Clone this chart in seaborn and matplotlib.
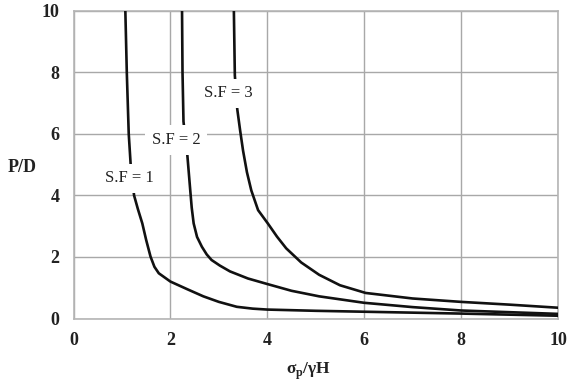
import matplotlib
matplotlib.use("Agg")
import matplotlib.pyplot as plt
import seaborn as sns
import pandas as pd

# curve values
sf1_x = [1.07, 1.10, 1.14, 1.18, 1.25, 1.33, 1.42, 1.50, 1.59, 1.67, 1.76, 2.0, 2.35, 2.68, 3.0, 3.37, 3.7, 4.0, 5.0, 6.0, 8.0, 10.0]
sf1_y = [10.0, 8.0, 6.0, 5.0, 4.0, 3.55, 3.09, 2.55, 2.01, 1.68, 1.47, 1.2, 0.95, 0.72, 0.54, 0.38, 0.32, 0.29, 0.25, 0.22, 0.16, 0.09]

sf2_x = [2.24, 2.25, 2.27, 2.35, 2.41, 2.44, 2.48, 2.55, 2.65, 2.75, 2.85, 3.02, 3.23, 3.6, 4.0, 4.5, 5.07, 6.0, 7.0, 8.0, 10.0]
sf2_y = [10.0, 8.0, 6.4, 5.3, 4.16, 3.6, 3.09, 2.65, 2.33, 2.08, 1.9, 1.72, 1.53, 1.3, 1.12, 0.9, 0.72, 0.51, 0.37, 0.26, 0.15]

sf3_x = [3.31, 3.33, 3.38, 3.44, 3.50, 3.58, 3.67, 3.81, 4.01, 4.2, 4.39, 4.7, 5.07, 5.5, 6.03, 7.0, 8.0, 9.0, 10.0]
sf3_y = [10.0, 7.9, 6.8, 6.1, 5.45, 4.75, 4.16, 3.52, 3.09, 2.66, 2.28, 1.82, 1.42, 1.08, 0.83, 0.65, 0.54, 0.45, 0.35]

curve_names = ["S.F = 1", "S.F = 2", "S.F = 3"]
label_x = [1.15, 2.12, 3.19]
label_y = [4.55, 5.8, 7.31]
ticks = [0, 2, 4, 6, 8, 10]

frames = []
for name, xs, ys in zip(curve_names, [sf1_x, sf2_x, sf3_x], [sf1_y, sf2_y, sf3_y]):
    frames.append(pd.DataFrame({"x": xs, "y": ys, "sf": name}))
df = pd.concat(frames, ignore_index=True)

sns.set_style("white")
plt.rcParams["font.family"] = ["Liberation Serif", "DejaVu Serif"]
plt.rcParams["mathtext.fontset"] = "custom"
plt.rcParams["mathtext.rm"] = "Liberation Serif:bold"

fig = plt.figure(figsize=(5.75, 3.84), dpi=100)
ax = fig.add_axes([73.5 / 575, 1 - 318.5 / 384, (558 - 73.5) / 575, (318.5 - 10.7) / 384])

sns.lineplot(data=df, x="x", y="y", hue="sf", units="sf", estimator=None, sort=False,
             palette=["#111111"] * 3, linewidth=1.9, legend=False, ax=ax, zorder=3)

for name, tx, ty in zip(curve_names, label_x, label_y):
    ax.text(tx, ty, name, fontsize=12, ha="center", va="center", color="#222222", zorder=5,
            bbox=dict(facecolor="white", edgecolor="none", boxstyle="square,pad=0.4"))

ax.set_xlim(0, 10)
ax.set_ylim(0, 10)
ax.set_xticks(ticks)
ax.set_yticks(ticks)
ax.grid(True, color="#a8a8a8", linewidth=1.0, zorder=0)
ax.set_axisbelow(True)
for s in ax.spines.values():
    s.set_color("#b5b5b5")
    s.set_linewidth(1.2)
ax.tick_params(length=0, pad=10, labelsize=13, labelcolor="#222222")
for lab in ax.get_xticklabels() + ax.get_yticklabels():
    lab.set_fontweight("bold")

ax.set_xlabel("σ$_\\mathrm{p}$/γH", fontsize=12.5, fontweight="bold", color="#222222", va="center")
ax.xaxis.set_label_coords(0.485, -0.172)
ax.set_ylabel("P/D", fontsize=13, fontweight="bold", rotation=0, ha="center", va="center",
              color="#222222")
ax.yaxis.set_label_coords(-0.106, 0.49)

fig.savefig("out.png", dpi=100)
